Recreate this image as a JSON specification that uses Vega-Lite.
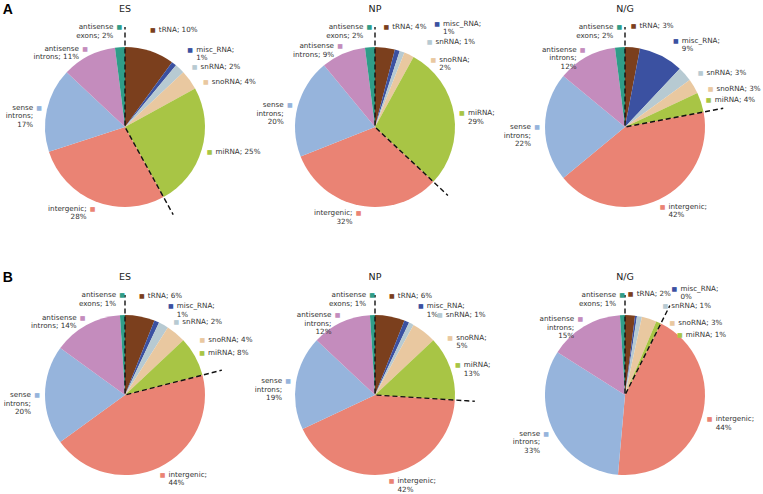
{
  "$schema": "https://vega.github.io/schema/vega-lite/v6.json",
  "background": "white",
  "padding": {"left": 1, "top": 3, "right": 0, "bottom": 0},
  "config": {"view": {"stroke": null}, "text": {"font": "DejaVu Sans"}},
  "datasets": {
    "pies": [
      {"panel": "A", "sample": "ES", "idx": 1, "category": "tRNA", "value": 10, "label": "tRNA; 10%"},
      {"panel": "A", "sample": "ES", "idx": 2, "category": "misc_RNA", "value": 1, "label": "misc_RNA;\n1%"},
      {"panel": "A", "sample": "ES", "idx": 3, "category": "snRNA", "value": 2, "label": "snRNA; 2%"},
      {"panel": "A", "sample": "ES", "idx": 4, "category": "snoRNA", "value": 4, "label": "snoRNA; 4%"},
      {"panel": "A", "sample": "ES", "idx": 5, "category": "miRNA", "value": 25, "label": "miRNA; 25%"},
      {"panel": "A", "sample": "ES", "idx": 6, "category": "intergenic", "value": 28, "label": "intergenic;\n28%"},
      {"panel": "A", "sample": "ES", "idx": 7, "category": "sense introns", "value": 17, "label": "sense\nintrons;\n17%"},
      {"panel": "A", "sample": "ES", "idx": 8, "category": "antisense introns", "value": 11, "label": "antisense\nintrons; 11%"},
      {"panel": "A", "sample": "ES", "idx": 9, "category": "antisense exons", "value": 2, "label": "antisense\nexons; 2%"},
      {"panel": "A", "sample": "NP", "idx": 1, "category": "tRNA", "value": 4, "label": "tRNA; 4%"},
      {"panel": "A", "sample": "NP", "idx": 2, "category": "misc_RNA", "value": 1, "label": "misc_RNA;\n1%"},
      {"panel": "A", "sample": "NP", "idx": 3, "category": "snRNA", "value": 1, "label": "snRNA; 1%"},
      {"panel": "A", "sample": "NP", "idx": 4, "category": "snoRNA", "value": 2, "label": "snoRNA;\n2%"},
      {"panel": "A", "sample": "NP", "idx": 5, "category": "miRNA", "value": 29, "label": "miRNA;\n29%"},
      {"panel": "A", "sample": "NP", "idx": 6, "category": "intergenic", "value": 32, "label": "intergenic;\n32%"},
      {"panel": "A", "sample": "NP", "idx": 7, "category": "sense introns", "value": 20, "label": "sense\nintrons;\n20%"},
      {"panel": "A", "sample": "NP", "idx": 8, "category": "antisense introns", "value": 9, "label": "antisense\nintrons; 9%"},
      {"panel": "A", "sample": "NP", "idx": 9, "category": "antisense exons", "value": 2, "label": "antisense\nexons; 2%"},
      {"panel": "A", "sample": "N/G", "idx": 1, "category": "tRNA", "value": 3, "label": "tRNA; 3%"},
      {"panel": "A", "sample": "N/G", "idx": 2, "category": "misc_RNA", "value": 9, "label": "misc_RNA;\n9%"},
      {"panel": "A", "sample": "N/G", "idx": 3, "category": "snRNA", "value": 3, "label": "snRNA; 3%"},
      {"panel": "A", "sample": "N/G", "idx": 4, "category": "snoRNA", "value": 3, "label": "snoRNA; 3%"},
      {"panel": "A", "sample": "N/G", "idx": 5, "category": "miRNA", "value": 4, "label": "miRNA; 4%"},
      {"panel": "A", "sample": "N/G", "idx": 6, "category": "intergenic", "value": 42, "label": "intergenic;\n42%"},
      {"panel": "A", "sample": "N/G", "idx": 7, "category": "sense introns", "value": 22, "label": "sense\nintrons;\n22%"},
      {"panel": "A", "sample": "N/G", "idx": 8, "category": "antisense introns", "value": 12, "label": "antisense\nintrons;\n12%"},
      {"panel": "A", "sample": "N/G", "idx": 9, "category": "antisense exons", "value": 2, "label": "antisense\nexons; 2%"},
      {"panel": "B", "sample": "ES", "idx": 1, "category": "tRNA", "value": 6, "label": "tRNA; 6%"},
      {"panel": "B", "sample": "ES", "idx": 2, "category": "misc_RNA", "value": 1, "label": "misc_RNA;\n1%"},
      {"panel": "B", "sample": "ES", "idx": 3, "category": "snRNA", "value": 2, "label": "snRNA; 2%"},
      {"panel": "B", "sample": "ES", "idx": 4, "category": "snoRNA", "value": 4, "label": "snoRNA; 4%"},
      {"panel": "B", "sample": "ES", "idx": 5, "category": "miRNA", "value": 8, "label": "miRNA; 8%"},
      {"panel": "B", "sample": "ES", "idx": 6, "category": "intergenic", "value": 44, "label": "intergenic;\n44%"},
      {"panel": "B", "sample": "ES", "idx": 7, "category": "sense introns", "value": 20, "label": "sense\nintrons;\n20%"},
      {"panel": "B", "sample": "ES", "idx": 8, "category": "antisense introns", "value": 14, "label": "antisense\nintrons; 14%"},
      {"panel": "B", "sample": "ES", "idx": 9, "category": "antisense exons", "value": 1, "label": "antisense\nexons; 1%"},
      {"panel": "B", "sample": "NP", "idx": 1, "category": "tRNA", "value": 6, "label": "tRNA; 6%"},
      {"panel": "B", "sample": "NP", "idx": 2, "category": "misc_RNA", "value": 1, "label": "misc_RNA;\n1%"},
      {"panel": "B", "sample": "NP", "idx": 3, "category": "snRNA", "value": 1, "label": "snRNA; 1%"},
      {"panel": "B", "sample": "NP", "idx": 4, "category": "snoRNA", "value": 5, "label": "snoRNA;\n5%"},
      {"panel": "B", "sample": "NP", "idx": 5, "category": "miRNA", "value": 13, "label": "miRNA;\n13%"},
      {"panel": "B", "sample": "NP", "idx": 6, "category": "intergenic", "value": 42, "label": "intergenic;\n42%"},
      {"panel": "B", "sample": "NP", "idx": 7, "category": "sense introns", "value": 19, "label": "sense\nintrons;\n19%"},
      {"panel": "B", "sample": "NP", "idx": 8, "category": "antisense introns", "value": 12, "label": "antisense\nintrons;\n12%"},
      {"panel": "B", "sample": "NP", "idx": 9, "category": "antisense exons", "value": 1, "label": "antisense\nexons; 1%"},
      {"panel": "B", "sample": "N/G", "idx": 1, "category": "tRNA", "value": 2, "label": "tRNA; 2%"},
      {"panel": "B", "sample": "N/G", "idx": 2, "category": "misc_RNA", "value": 0.4, "label": "misc_RNA;\n0%"},
      {"panel": "B", "sample": "N/G", "idx": 3, "category": "snRNA", "value": 1, "label": "snRNA; 1%"},
      {"panel": "B", "sample": "N/G", "idx": 4, "category": "snoRNA", "value": 3, "label": "snoRNA; 3%"},
      {"panel": "B", "sample": "N/G", "idx": 5, "category": "miRNA", "value": 1, "label": "miRNA; 1%"},
      {"panel": "B", "sample": "N/G", "idx": 6, "category": "intergenic", "value": 44, "label": "intergenic;\n44%"},
      {"panel": "B", "sample": "N/G", "idx": 7, "category": "sense introns", "value": 32.6, "label": "sense\nintrons;\n33%"},
      {"panel": "B", "sample": "N/G", "idx": 8, "category": "antisense introns", "value": 15, "label": "antisense\nintrons;\n15%"},
      {"panel": "B", "sample": "N/G", "idx": 9, "category": "antisense exons", "value": 1, "label": "antisense\nexons; 1%"}
    ]
  },
  "data": {"name": "pies"},
  "spacing": 21,
  "vconcat": [
    {
      "transform": [
        {"filter": "datum.panel === 'A'"},
        {"window": [{"op": "sum", "field": "value", "as": "cum"}], "groupby": ["sample"], "sort": [{"field": "idx", "order": "ascending"}], "frame": [null, 0]}
      ],
      "bounds": "flush",
      "spacing": {"column": 54, "row": 0},
      "facet": {
        "row": {"field": "panel", "type": "nominal", "header": {"title": null, "labelAngle": 0, "labelOrient": "left", "labelAnchor": "end", "labelBaseline": "line-bottom", "labelLineHeight": 34, "labelFont": "Liberation Sans", "labelFontSize": 14, "labelFontWeight": "bold", "labelColor": "#000000", "labelPadding": 4}},
        "column": {"field": "sample", "type": "nominal", "sort": ["ES", "NP", "N/G"], "header": {"title": null, "labelFont": "DejaVu Sans", "labelFontSize": 9.5, "labelColor": "#222222", "labelPadding": 14}}
      },
      "spec": {
        "width": 196,
        "height": 200,
        "encoding": {
          "theta": {"field": "value", "type": "quantitative", "stack": true, "scale": {"domain": [0, 100]}},
          "order": {"field": "idx", "type": "quantitative"},
          "detail": {"field": "category"}
        },
        "layer": [
          {"mark": {"type": "arc", "outerRadius": 80},
           "encoding": {"color": {"field": "category", "type": "nominal", "legend": null,
             "scale": {"domain": ["tRNA", "misc_RNA", "snRNA", "snoRNA", "miRNA", "intergenic", "sense introns", "antisense introns", "antisense exons"],
                       "range": ["#7B3F1D", "#3B51A1", "#B7CAD2", "#E9C8A0", "#A8C545", "#EA8374", "#96B4DC", "#C48CBD", "#2F9D88"]}}}},
          {"transform": [{"filter": "datum.idx == 1"}],
           "mark": {"type": "arc", "outerRadius": 100, "innerRadius": 0, "filled": false, "stroke": "#111111", "strokeWidth": 1.4, "strokeDash": [5, 3], "strokeDashOffset": 2.5},
           "encoding": {"theta": {"datum": 0, "type": "quantitative"}, "theta2": {"datum": 0}, "order": null, "detail": null}},
          {"transform": [{"filter": "datum.idx == 5"}],
           "mark": {"type": "arc", "outerRadius": 100, "innerRadius": 0, "filled": false, "stroke": "#111111", "strokeWidth": 1.4, "strokeDash": [5, 3], "strokeDashOffset": 2.5},
           "encoding": {"theta": {"field": "cum", "type": "quantitative", "stack": null}, "theta2": {"field": "cum"}, "order": null, "detail": null}},

          {"mark": {"type": "text", "radius": 88, "fontSize": 6, "baseline": "middle", "align": "center"},
           "encoding": {"text": {"value": "■"}, "color": {"field": "category", "type": "nominal", "legend": null},
             "opacity": {"condition": {"test": "(datum.idx >= 6 && datum.idx <= 8) || (datum.idx == 5 && datum.cum - datum.value / 2 >= 12)", "value": 1}, "value": 0}}},
          {"mark": {"type": "text", "radius": 88, "fontSize": 7.2, "lineHeight": 8.5, "lineBreak": "\n", "baseline": "middle", "align": "left", "dx": 6, "color": "#333333"},
           "encoding": {"text": {"field": "label"},
             "opacity": {"condition": {"test": "(datum.idx >= 6 || (datum.idx == 5 && datum.cum - datum.value / 2 >= 12)) && datum.cum - datum.value / 2 < 50", "value": 1}, "value": 0}}},
          {"mark": {"type": "text", "radius": 88, "fontSize": 7.2, "lineHeight": 8.5, "lineBreak": "\n", "baseline": "middle", "align": "right", "dx": -6, "color": "#333333"},
           "encoding": {"text": {"field": "label"},
             "opacity": {"condition": {"test": "datum.idx >= 5 && datum.idx <= 8 && datum.cum - datum.value / 2 >= 50", "value": 1}, "value": 0}}},

          {"mark": {"type": "text", "radius": 90, "fontSize": 6, "baseline": "middle", "align": "center", "dx": 0, "dy": -10},
           "encoding": {"text": {"value": "■"}, "color": {"field": "category", "type": "nominal", "legend": null},
             "opacity": {"condition": {"test": "datum.idx == 9", "value": 1}, "value": 0}}},
          {"mark": {"type": "text", "radius": 90, "fontSize": 7.2, "lineHeight": 8.5, "lineBreak": "\n", "baseline": "middle", "align": "right", "dx": -6, "dy": -10, "color": "#333333"},
           "encoding": {"text": {"field": "label"},
             "opacity": {"condition": {"test": "datum.idx == 9", "value": 1}, "value": 0}}},

          {"mark": {"type": "text", "radius": 90, "fontSize": 6, "baseline": "middle", "align": "center", "dx": 0, "dy": -11},
           "encoding": {"text": {"value": "■"}, "color": {"field": "category", "type": "nominal", "legend": null},
             "opacity": {"condition": {"test": "datum.idx == 1", "value": 1}, "value": 0}}},
          {"mark": {"type": "text", "radius": 90, "fontSize": 7.2, "lineHeight": 8.5, "lineBreak": "\n", "baseline": "middle", "align": "left", "dx": 6, "dy": -11, "color": "#333333"},
           "encoding": {"text": {"field": "label"},
             "opacity": {"condition": {"test": "datum.idx == 1", "value": 1}, "value": 0}}},

          {"mark": {"type": "text", "radius": 90, "fontSize": 6, "baseline": "middle", "align": "center", "dx": 37, "dy": -17},
           "encoding": {"text": {"value": "■"}, "color": {"field": "category", "type": "nominal", "legend": null},
             "opacity": {"condition": {"test": "datum.idx == 2 && datum.cum - datum.value / 2 < 6", "value": 1}, "value": 0}}},
          {"mark": {"type": "text", "radius": 90, "fontSize": 7.2, "lineHeight": 8.5, "lineBreak": "\n", "baseline": "middle", "align": "left", "dx": 43, "dy": -17, "color": "#333333"},
           "encoding": {"text": {"field": "label"},
             "opacity": {"condition": {"test": "datum.idx == 2 && datum.cum - datum.value / 2 < 6", "value": 1}, "value": 0}}},
          {"mark": {"type": "text", "radius": 90, "fontSize": 6, "baseline": "middle", "align": "center", "dx": 10, "dy": -6},
           "encoding": {"text": {"value": "■"}, "color": {"field": "category", "type": "nominal", "legend": null},
             "opacity": {"condition": {"test": "datum.idx == 2 && datum.cum - datum.value / 2 >= 6", "value": 1}, "value": 0}}},
          {"mark": {"type": "text", "radius": 90, "fontSize": 7.2, "lineHeight": 8.5, "lineBreak": "\n", "baseline": "middle", "align": "left", "dx": 16, "dy": -6, "color": "#333333"},
           "encoding": {"text": {"field": "label"},
             "opacity": {"condition": {"test": "datum.idx == 2 && datum.cum - datum.value / 2 >= 6", "value": 1}, "value": 0}}},

          {"mark": {"type": "text", "radius": 90, "fontSize": 6, "baseline": "middle", "align": "center", "dx": 24, "dy": 0},
           "encoding": {"text": {"value": "■"}, "color": {"field": "category", "type": "nominal", "legend": null},
             "opacity": {"condition": {"test": "datum.idx == 3 && datum.cum - datum.value / 2 < 8", "value": 1}, "value": 0}}},
          {"mark": {"type": "text", "radius": 90, "fontSize": 7.2, "lineHeight": 8.5, "lineBreak": "\n", "baseline": "middle", "align": "left", "dx": 30, "dy": 0, "color": "#333333"},
           "encoding": {"text": {"field": "label"},
             "opacity": {"condition": {"test": "datum.idx == 3 && datum.cum - datum.value / 2 < 8", "value": 1}, "value": 0}}},
          {"mark": {"type": "text", "radius": 90, "fontSize": 6, "baseline": "middle", "align": "center", "dx": 8, "dy": 6},
           "encoding": {"text": {"value": "■"}, "color": {"field": "category", "type": "nominal", "legend": null},
             "opacity": {"condition": {"test": "datum.idx == 3 && datum.cum - datum.value / 2 >= 8", "value": 1}, "value": 0}}},
          {"mark": {"type": "text", "radius": 90, "fontSize": 7.2, "lineHeight": 8.5, "lineBreak": "\n", "baseline": "middle", "align": "left", "dx": 14, "dy": 6, "color": "#333333"},
           "encoding": {"text": {"field": "label"},
             "opacity": {"condition": {"test": "datum.idx == 3 && datum.cum - datum.value / 2 >= 8", "value": 1}, "value": 0}}},

          {"mark": {"type": "text", "radius": 90, "fontSize": 6, "baseline": "middle", "align": "center", "dx": 20, "dy": 14},
           "encoding": {"text": {"value": "■"}, "color": {"field": "category", "type": "nominal", "legend": null},
             "opacity": {"condition": {"test": "datum.idx == 4 && datum.cum - datum.value / 2 < 12", "value": 1}, "value": 0}}},
          {"mark": {"type": "text", "radius": 90, "fontSize": 7.2, "lineHeight": 8.5, "lineBreak": "\n", "baseline": "middle", "align": "left", "dx": 26, "dy": 14, "color": "#333333"},
           "encoding": {"text": {"field": "label"},
             "opacity": {"condition": {"test": "datum.idx == 4 && datum.cum - datum.value / 2 < 12", "value": 1}, "value": 0}}},
          {"mark": {"type": "text", "radius": 90, "fontSize": 6, "baseline": "middle", "align": "center", "dx": 8, "dy": 8},
           "encoding": {"text": {"value": "■"}, "color": {"field": "category", "type": "nominal", "legend": null},
             "opacity": {"condition": {"test": "datum.idx == 4 && datum.cum - datum.value / 2 >= 12", "value": 1}, "value": 0}}},
          {"mark": {"type": "text", "radius": 90, "fontSize": 7.2, "lineHeight": 8.5, "lineBreak": "\n", "baseline": "middle", "align": "left", "dx": 14, "dy": 8, "color": "#333333"},
           "encoding": {"text": {"field": "label"},
             "opacity": {"condition": {"test": "datum.idx == 4 && datum.cum - datum.value / 2 >= 12", "value": 1}, "value": 0}}},

          {"mark": {"type": "text", "radius": 90, "fontSize": 6, "baseline": "middle", "align": "center", "dx": 17, "dy": 22},
           "encoding": {"text": {"value": "■"}, "color": {"field": "category", "type": "nominal", "legend": null},
             "opacity": {"condition": {"test": "datum.idx == 5 && datum.cum - datum.value / 2 < 12", "value": 1}, "value": 0}}},
          {"mark": {"type": "text", "radius": 90, "fontSize": 7.2, "lineHeight": 8.5, "lineBreak": "\n", "baseline": "middle", "align": "left", "dx": 23, "dy": 22, "color": "#333333"},
           "encoding": {"text": {"field": "label"},
             "opacity": {"condition": {"test": "datum.idx == 5 && datum.cum - datum.value / 2 < 12", "value": 1}, "value": 0}}}
        ]
      }
    },
    {
      "transform": [
        {"filter": "datum.panel === 'B'"},
        {"window": [{"op": "sum", "field": "value", "as": "cum"}], "groupby": ["sample"], "sort": [{"field": "idx", "order": "ascending"}], "frame": [null, 0]}
      ],
      "bounds": "flush",
      "spacing": {"column": 54, "row": 0},
      "facet": {
        "row": {"field": "panel", "type": "nominal", "header": {"title": null, "labelAngle": 0, "labelOrient": "left", "labelAnchor": "end", "labelBaseline": "line-bottom", "labelLineHeight": 34, "labelFont": "Liberation Sans", "labelFontSize": 14, "labelFontWeight": "bold", "labelColor": "#000000", "labelPadding": 4}},
        "column": {"field": "sample", "type": "nominal", "sort": ["ES", "NP", "N/G"], "header": {"title": null, "labelFont": "DejaVu Sans", "labelFontSize": 9.5, "labelColor": "#222222", "labelPadding": 14}}
      },
      "spec": {
        "width": 196,
        "height": 200,
        "encoding": {
          "theta": {"field": "value", "type": "quantitative", "stack": true, "scale": {"domain": [0, 100]}},
          "order": {"field": "idx", "type": "quantitative"},
          "detail": {"field": "category"}
        },
        "layer": [
          {"mark": {"type": "arc", "outerRadius": 80},
           "encoding": {"color": {"field": "category", "type": "nominal", "legend": null,
             "scale": {"domain": ["tRNA", "misc_RNA", "snRNA", "snoRNA", "miRNA", "intergenic", "sense introns", "antisense introns", "antisense exons"],
                       "range": ["#7B3F1D", "#3B51A1", "#B7CAD2", "#E9C8A0", "#A8C545", "#EA8374", "#96B4DC", "#C48CBD", "#2F9D88"]}}}},
          {"transform": [{"filter": "datum.idx == 1"}],
           "mark": {"type": "arc", "outerRadius": 100, "innerRadius": 0, "filled": false, "stroke": "#111111", "strokeWidth": 1.4, "strokeDash": [5, 3], "strokeDashOffset": 2.5},
           "encoding": {"theta": {"datum": 0, "type": "quantitative"}, "theta2": {"datum": 0}, "order": null, "detail": null}},
          {"transform": [{"filter": "datum.idx == 5"}],
           "mark": {"type": "arc", "outerRadius": 100, "innerRadius": 0, "filled": false, "stroke": "#111111", "strokeWidth": 1.4, "strokeDash": [5, 3], "strokeDashOffset": 2.5},
           "encoding": {"theta": {"field": "cum", "type": "quantitative", "stack": null}, "theta2": {"field": "cum"}, "order": null, "detail": null}},

          {"mark": {"type": "text", "radius": 88, "fontSize": 6, "baseline": "middle", "align": "center"},
           "encoding": {"text": {"value": "■"}, "color": {"field": "category", "type": "nominal", "legend": null},
             "opacity": {"condition": {"test": "(datum.idx >= 6 && datum.idx <= 8) || (datum.idx == 5 && datum.cum - datum.value / 2 >= 12)", "value": 1}, "value": 0}}},
          {"mark": {"type": "text", "radius": 88, "fontSize": 7.2, "lineHeight": 8.5, "lineBreak": "\n", "baseline": "middle", "align": "left", "dx": 6, "color": "#333333"},
           "encoding": {"text": {"field": "label"},
             "opacity": {"condition": {"test": "(datum.idx >= 6 || (datum.idx == 5 && datum.cum - datum.value / 2 >= 12)) && datum.cum - datum.value / 2 < 50", "value": 1}, "value": 0}}},
          {"mark": {"type": "text", "radius": 88, "fontSize": 7.2, "lineHeight": 8.5, "lineBreak": "\n", "baseline": "middle", "align": "right", "dx": -6, "color": "#333333"},
           "encoding": {"text": {"field": "label"},
             "opacity": {"condition": {"test": "datum.idx >= 5 && datum.idx <= 8 && datum.cum - datum.value / 2 >= 50", "value": 1}, "value": 0}}},

          {"mark": {"type": "text", "radius": 90, "fontSize": 6, "baseline": "middle", "align": "center", "dx": 0, "dy": -10},
           "encoding": {"text": {"value": "■"}, "color": {"field": "category", "type": "nominal", "legend": null},
             "opacity": {"condition": {"test": "datum.idx == 9", "value": 1}, "value": 0}}},
          {"mark": {"type": "text", "radius": 90, "fontSize": 7.2, "lineHeight": 8.5, "lineBreak": "\n", "baseline": "middle", "align": "right", "dx": -6, "dy": -10, "color": "#333333"},
           "encoding": {"text": {"field": "label"},
             "opacity": {"condition": {"test": "datum.idx == 9", "value": 1}, "value": 0}}},

          {"mark": {"type": "text", "radius": 90, "fontSize": 6, "baseline": "middle", "align": "center", "dx": 0, "dy": -11},
           "encoding": {"text": {"value": "■"}, "color": {"field": "category", "type": "nominal", "legend": null},
             "opacity": {"condition": {"test": "datum.idx == 1", "value": 1}, "value": 0}}},
          {"mark": {"type": "text", "radius": 90, "fontSize": 7.2, "lineHeight": 8.5, "lineBreak": "\n", "baseline": "middle", "align": "left", "dx": 6, "dy": -11, "color": "#333333"},
           "encoding": {"text": {"field": "label"},
             "opacity": {"condition": {"test": "datum.idx == 1", "value": 1}, "value": 0}}},

          {"mark": {"type": "text", "radius": 90, "fontSize": 6, "baseline": "middle", "align": "center", "dx": 37, "dy": -17},
           "encoding": {"text": {"value": "■"}, "color": {"field": "category", "type": "nominal", "legend": null},
             "opacity": {"condition": {"test": "datum.idx == 2 && datum.cum - datum.value / 2 < 6", "value": 1}, "value": 0}}},
          {"mark": {"type": "text", "radius": 90, "fontSize": 7.2, "lineHeight": 8.5, "lineBreak": "\n", "baseline": "middle", "align": "left", "dx": 43, "dy": -17, "color": "#333333"},
           "encoding": {"text": {"field": "label"},
             "opacity": {"condition": {"test": "datum.idx == 2 && datum.cum - datum.value / 2 < 6", "value": 1}, "value": 0}}},
          {"mark": {"type": "text", "radius": 90, "fontSize": 6, "baseline": "middle", "align": "center", "dx": 10, "dy": -6},
           "encoding": {"text": {"value": "■"}, "color": {"field": "category", "type": "nominal", "legend": null},
             "opacity": {"condition": {"test": "datum.idx == 2 && datum.cum - datum.value / 2 >= 6", "value": 1}, "value": 0}}},
          {"mark": {"type": "text", "radius": 90, "fontSize": 7.2, "lineHeight": 8.5, "lineBreak": "\n", "baseline": "middle", "align": "left", "dx": 16, "dy": -6, "color": "#333333"},
           "encoding": {"text": {"field": "label"},
             "opacity": {"condition": {"test": "datum.idx == 2 && datum.cum - datum.value / 2 >= 6", "value": 1}, "value": 0}}},

          {"mark": {"type": "text", "radius": 90, "fontSize": 6, "baseline": "middle", "align": "center", "dx": 24, "dy": 0},
           "encoding": {"text": {"value": "■"}, "color": {"field": "category", "type": "nominal", "legend": null},
             "opacity": {"condition": {"test": "datum.idx == 3 && datum.cum - datum.value / 2 < 8", "value": 1}, "value": 0}}},
          {"mark": {"type": "text", "radius": 90, "fontSize": 7.2, "lineHeight": 8.5, "lineBreak": "\n", "baseline": "middle", "align": "left", "dx": 30, "dy": 0, "color": "#333333"},
           "encoding": {"text": {"field": "label"},
             "opacity": {"condition": {"test": "datum.idx == 3 && datum.cum - datum.value / 2 < 8", "value": 1}, "value": 0}}},
          {"mark": {"type": "text", "radius": 90, "fontSize": 6, "baseline": "middle", "align": "center", "dx": 8, "dy": 6},
           "encoding": {"text": {"value": "■"}, "color": {"field": "category", "type": "nominal", "legend": null},
             "opacity": {"condition": {"test": "datum.idx == 3 && datum.cum - datum.value / 2 >= 8", "value": 1}, "value": 0}}},
          {"mark": {"type": "text", "radius": 90, "fontSize": 7.2, "lineHeight": 8.5, "lineBreak": "\n", "baseline": "middle", "align": "left", "dx": 14, "dy": 6, "color": "#333333"},
           "encoding": {"text": {"field": "label"},
             "opacity": {"condition": {"test": "datum.idx == 3 && datum.cum - datum.value / 2 >= 8", "value": 1}, "value": 0}}},

          {"mark": {"type": "text", "radius": 90, "fontSize": 6, "baseline": "middle", "align": "center", "dx": 20, "dy": 14},
           "encoding": {"text": {"value": "■"}, "color": {"field": "category", "type": "nominal", "legend": null},
             "opacity": {"condition": {"test": "datum.idx == 4 && datum.cum - datum.value / 2 < 12", "value": 1}, "value": 0}}},
          {"mark": {"type": "text", "radius": 90, "fontSize": 7.2, "lineHeight": 8.5, "lineBreak": "\n", "baseline": "middle", "align": "left", "dx": 26, "dy": 14, "color": "#333333"},
           "encoding": {"text": {"field": "label"},
             "opacity": {"condition": {"test": "datum.idx == 4 && datum.cum - datum.value / 2 < 12", "value": 1}, "value": 0}}},
          {"mark": {"type": "text", "radius": 90, "fontSize": 6, "baseline": "middle", "align": "center", "dx": 8, "dy": 8},
           "encoding": {"text": {"value": "■"}, "color": {"field": "category", "type": "nominal", "legend": null},
             "opacity": {"condition": {"test": "datum.idx == 4 && datum.cum - datum.value / 2 >= 12", "value": 1}, "value": 0}}},
          {"mark": {"type": "text", "radius": 90, "fontSize": 7.2, "lineHeight": 8.5, "lineBreak": "\n", "baseline": "middle", "align": "left", "dx": 14, "dy": 8, "color": "#333333"},
           "encoding": {"text": {"field": "label"},
             "opacity": {"condition": {"test": "datum.idx == 4 && datum.cum - datum.value / 2 >= 12", "value": 1}, "value": 0}}},

          {"mark": {"type": "text", "radius": 90, "fontSize": 6, "baseline": "middle", "align": "center", "dx": 17, "dy": 22},
           "encoding": {"text": {"value": "■"}, "color": {"field": "category", "type": "nominal", "legend": null},
             "opacity": {"condition": {"test": "datum.idx == 5 && datum.cum - datum.value / 2 < 12", "value": 1}, "value": 0}}},
          {"mark": {"type": "text", "radius": 90, "fontSize": 7.2, "lineHeight": 8.5, "lineBreak": "\n", "baseline": "middle", "align": "left", "dx": 23, "dy": 22, "color": "#333333"},
           "encoding": {"text": {"field": "label"},
             "opacity": {"condition": {"test": "datum.idx == 5 && datum.cum - datum.value / 2 < 12", "value": 1}, "value": 0}}}
        ]
      }
    }
  ]
}
